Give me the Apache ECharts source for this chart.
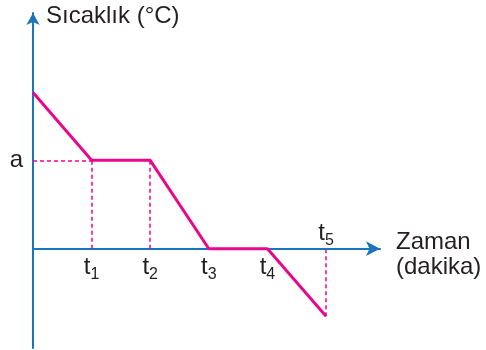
<!DOCTYPE html>
<html>
<head>
<meta charset="utf-8">
<script src="https://cdn.jsdelivr.net/npm/echarts@6/dist/echarts.min.js"></script>
<style>
  html, body { margin: 0; padding: 0; background: #fff; }
  #chart { width: 486px; height: 350px; }
</style>
</head>
<body>
<div id="chart"></div>
<script>
// temperature vs time (a = 3 units)
var times = [0, 1, 2, 3, 4, 5];
var temps = [5.3, 3, 3, 0, 0, -2.29];
var tickNames = ["1", "2", "3", "4", "5"];
var aValue = 3;

var AXIS = "#1b75bc";
var PINK = "#e8088b";
var TEXT = "#231f20";
var FONT = "Liberation Sans";

var lineData = times.map(function (t, i) { return [t, temps[i]]; });

var richT = {
    t: { fontSize: 24, fontFamily: FONT, color: TEXT, lineHeight: 26 },
    s: { fontSize: 16, fontFamily: FONT, color: TEXT, padding: [13, 0, 0, 0], lineHeight: 16 }
};

// t1..t5 labels sit on the time axis; t5 goes above it
var tickData = tickNames.map(function (n, i) {
    var last = i === tickNames.length - 1;
    return {
        value: [times[i + 1], 0],
        label: { position: last ? "top" : "bottom", distance: last ? 2 : 6 }
    };
});

var dashed = { color: PINK, type: [4, 3], width: 1.5 };

var myChart = echarts.init(document.getElementById("chart"));
var option = {
    animation: false,
    grid: { left: 33, right: 106, top: 13, bottom: 2, outerBoundsMode: "none" },
    xAxis: {
        type: "value",
        min: 0,
        max: 5.92,
        name: "{z|Zaman}\n{z|(dakika)}",
        nameLocation: "end",
        nameGap: 16,
        nameTextStyle: {
            fontSize: 24, fontFamily: FONT, color: TEXT,
            align: "left", verticalAlign: "middle",
            rich: {
                z: { fontSize: 24, fontFamily: FONT, color: TEXT, lineHeight: 25, padding: [12, 0, 0, 0] }
            }
        },
        axisLine: { onZero: true, lineStyle: { color: AXIS, width: 2 }, symbol: ["none", "arrow"], symbolSize: [11, 14] },
        axisTick: { show: false },
        splitLine: { show: false },
        axisLabel: { show: false }
    },
    yAxis: {
        type: "value",
        min: -3.37,
        max: 8,
        name: "Sıcaklık (°C)",
        nameLocation: "end",
        nameGap: -3,
        nameTextStyle: {
            fontSize: 24, fontFamily: FONT, color: TEXT,
            align: "left", verticalAlign: "middle",
            padding: [0, 0, 0, 13]
        },
        axisLine: { onZero: true, lineStyle: { color: AXIS, width: 2 }, symbol: ["none", "arrow"], symbolSize: [10, 12] },
        axisTick: { show: false },
        splitLine: { show: false },
        axisLabel: {
            customValues: [aValue],
            margin: 10,
            formatter: function () { return "a"; },
            fontSize: 24, fontFamily: FONT, color: TEXT
        }
    },
    series: [{
        type: "line",
        data: lineData,
        showSymbol: false,
        lineStyle: { color: PINK, width: 3 },
        z: 3,
        markLine: {
            silent: true,
            symbol: ["none", "none"],
            lineStyle: dashed,
            label: { show: false },
            data: [
                [{ coord: [0, aValue] }, { coord: [times[1], aValue] }],
                [{ coord: [times[1], 0] }, { coord: [times[1], aValue] }],
                [{ coord: [times[2], 0] }, { coord: [times[2], aValue] }],
                [{ coord: [times[5], temps[5]] }, { coord: [times[5], 0] }]
            ]
        }
    }, {
        type: "scatter",
        data: tickData,
        symbolSize: 0,
        silent: true,
        itemStyle: { opacity: 1 },
        label: {
            show: true,
            color: TEXT,
            textBorderWidth: 0,
            formatter: function (p) { return "{t|t}{s|" + tickNames[p.dataIndex] + "}"; },
            rich: richT
        }
    }]
};
myChart.setOption(option);
</script>
</body>
</html>
